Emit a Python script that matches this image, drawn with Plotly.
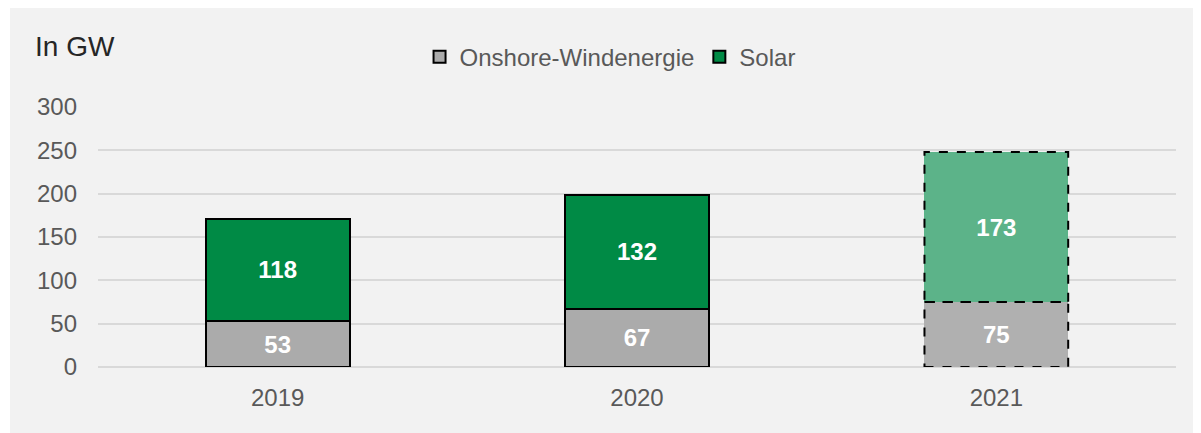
import plotly.graph_objects as go

years = ["2019", "2020", "2021"]
wind = [53, 67, 75]
solar = [118, 132, 173]
wind_colors = ["#ABABAB", "#ABABAB", "#B0B0B0"]
solar_colors = ["#008A45", "#008A45", "#5CB389"]
line_widths = [2, 2, 0]
y_ticks = [0, 50, 100, 150, 200, 250, 300]

label_font = dict(color="white", size=24, family="Liberation Sans", weight="bold")

fig = go.Figure()
fig.add_trace(go.Bar(
    x=years, y=wind, name="Onshore-Windenergie",
    marker=dict(color=wind_colors, line=dict(color="black", width=line_widths)),
    text=[str(v) for v in wind], textposition="inside", insidetextanchor="middle",
    textfont=label_font, width=0.4,
))
fig.add_trace(go.Bar(
    x=years, y=solar, name="Solar",
    marker=dict(color=solar_colors, line=dict(color="black", width=line_widths)),
    text=[str(v) for v in solar], textposition="inside", insidetextanchor="middle",
    textfont=label_font, width=0.4,
))

# dashed outlines for the projected year (last category)
i = len(years) - 1
fig.add_shape(type="rect", xref="x", yref="y", x0=i - 0.2, x1=i + 0.2, y0=0, y1=wind[i],
              line=dict(color="black", width=2, dash="dash"), layer="above")
fig.add_shape(type="rect", xref="x", yref="y", x0=i - 0.2, x1=i + 0.2, y0=wind[i], y1=wind[i] + solar[i],
              line=dict(color="black", width=2, dash="dash"), layer="above")

# thin white strip at the left of the grey panel
fig.add_shape(type="rect", xref="paper", yref="paper", x0=-0.2, x1=-0.0816, y0=-0.5, y1=1.6,
              fillcolor="white", line=dict(width=0), layer="below")

fig.add_annotation(text="In GW", xref="paper", yref="paper", x=-0.0603, y=1.2308,
                   xanchor="left", yanchor="middle", showarrow=False,
                   font=dict(size=28, color="#262626", family="Liberation Sans"))

fig.update_layout(
    barmode="stack",
    width=1193, height=425,
    margin=dict(l=90, r=25, t=99, b=66),
    paper_bgcolor="#F2F2F2",
    plot_bgcolor="#F2F2F2",
    font=dict(family="Liberation Sans", color="#595959", size=24),
    showlegend=True,
    legend=dict(orientation="h", x=0.475, xanchor="center", y=1.192, yanchor="middle",
                font=dict(size=24, color="#595959"), bgcolor="rgba(0,0,0,0)",
                traceorder="normal", itemwidth=30),
    bargap=0.6,
)
fig.update_yaxes(range=[0, 300], tickvals=y_ticks, showgrid=True, gridcolor="#D9D9D9",
                 gridwidth=1.5, zeroline=True, zerolinecolor="#D9D9D9", zerolinewidth=1.5,
                 showline=False, ticklabelstandoff=20, tickfont=dict(size=24, color="#595959"))
fig.update_xaxes(showline=False, showgrid=False, ticklabelstandoff=14,
                 tickfont=dict(size=24, color="#595959"))

fig.write_html("out.html")
